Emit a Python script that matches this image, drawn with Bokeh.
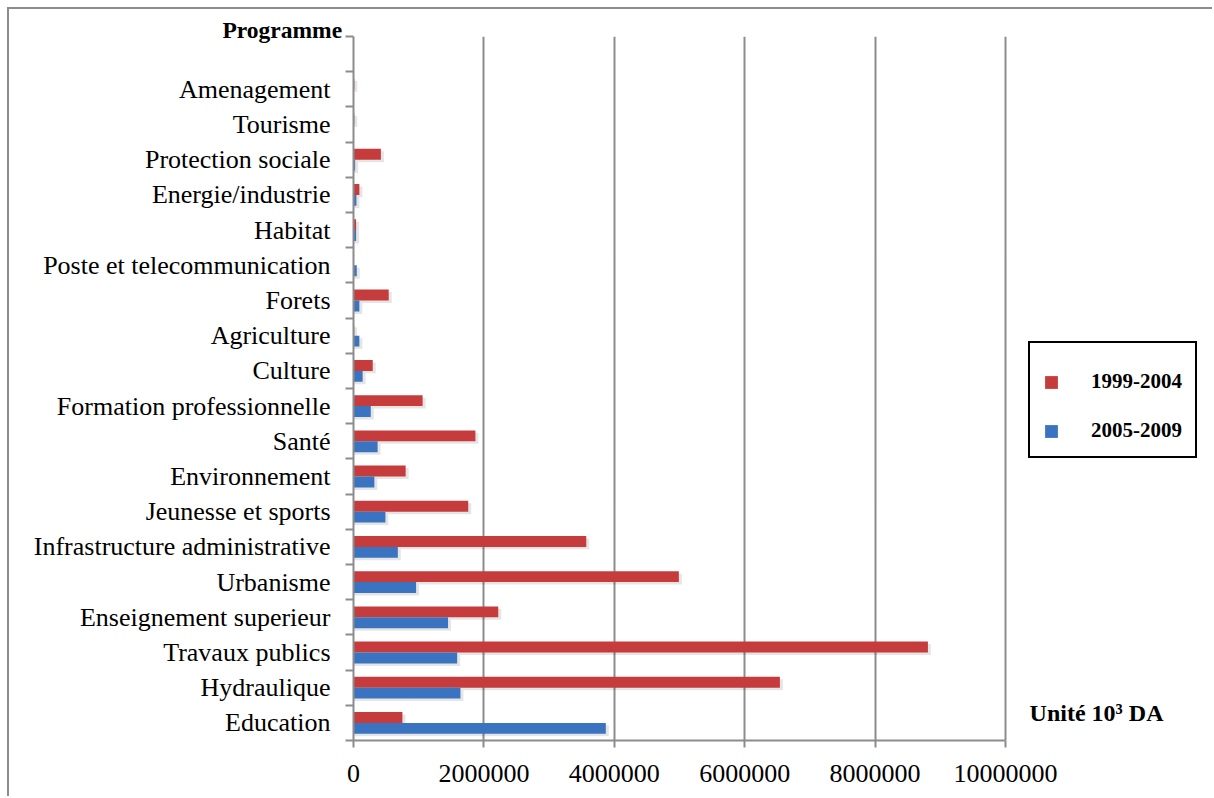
from bokeh.plotting import figure
from bokeh.models import (ColumnDataSource, FixedTicker, Legend, LegendItem, Label,
                          Title, BasicTickFormatter)
from bokeh.embed import file_html
from bokeh.resources import INLINE

# ---- data (unit: 10^3 DA), bottom to top ----
categories = ["Education", "Hydraulique", "Travaux publics", "Enseignement superieur",
              "Urbanisme", "Infrastructure administrative", "Jeunesse et sports",
              "Environnement", "Santé", "Formation professionnelle", "Culture",
              "Agriculture", "Forets", "Poste et telecommunication", "Habitat",
              "Energie/industrie", "Protection sociale", "Tourisme", "Amenagement"]
values_1999_2004 = [750000, 6540000, 8810000, 2220000, 4990000, 3570000, 1760000,
                    800000, 1870000, 1060000, 295000, 10000, 540000, 0, 40000,
                    90000, 420000, 12000, 12000]
values_2005_2009 = [3870000, 1640000, 1590000, 1450000, 960000, 680000, 490000,
                    320000, 370000, 265000, 140000, 90000, 90000, 50000, 40000,
                    45000, 25000, 0, 0]
series_labels = ["1999-2004", "2005-2009"]
x_ticks = [0, 2000000, 4000000, 6000000, 8000000, 10000000]
axis_title = "Programme"
unit_text = "Unité 10³ DA"

RED = "#C63B3B"
BLUE = "#3A74C0"
GRAY = "#8C8C8C"
SERIF = "Liberation Serif"

# layout (page pixels)
W, H = 1214, 798
OFF = 9                      # margin + border of the outer frame line
FRAME_L, FRAME_T, FRAME_B = 353, 36, 740
AXIS_R = 1005                # pixel where 10 000 000 lies
x_max = x_ticks[-1]
x_end = x_max * (W - FRAME_L) / (AXIS_R - FRAME_L)
px = x_max / (AXIS_R - FRAME_L)   # data units per pixel on x

n = len(categories)
centers = [i + 0.5 for i in range(n)]
BAR_H = 0.31
src = ColumnDataSource(dict(
    cat=categories,
    y_red=[c + 0.155 for c in centers],
    y_blue=[c - 0.155 for c in centers],
    red=values_1999_2004,
    blue=values_2005_2009,
))
shadow = ColumnDataSource(dict(
    y=[c + 0.155 - 0.07 for c in centers] + [c - 0.155 - 0.07 for c in centers],
    right=[v + 3 * px if v > 0 else 0 for v in values_1999_2004] +
          [v + 3 * px if v > 0 else 0 for v in values_2005_2009],
))

p = figure(width=W - OFF, height=H - OFF, output_backend="svg", toolbar_location=None,
           x_range=(0, x_end), y_range=(0, n + 1),
           min_border_left=FRAME_L - OFF, min_border_right=0,
           min_border_top=FRAME_T - OFF, min_border_bottom=H - FRAME_B)
p.styles = {"margin-left": "7px", "margin-top": "7px",
            "border-left": "2px solid #8C8C8C", "border-top": "2px solid #8C8C8C"}
p.outline_line_color = None
p.background_fill_color = "white"
p.border_fill_color = "white"

p.hbar(y="y", right="right", left=0, height=BAR_H, source=shadow,
       fill_color="#000000", fill_alpha=0.10, line_color=None)
r_red = p.hbar(y="y_red", right="red", left=0, height=BAR_H, source=src,
               fill_color=RED, line_color=None)
r_blue = p.hbar(y="y_blue", right="blue", left=0, height=BAR_H, source=src,
                fill_color=BLUE, line_color=None)

# x axis
xa = p.xaxis[0]
xa.ticker = FixedTicker(ticks=x_ticks)
xa.bounds = (0, x_max)
xa.formatter = BasicTickFormatter(use_scientific=False)
xa.axis_line_color = GRAY
xa.axis_line_width = 2
xa.major_tick_line_color = GRAY
xa.major_tick_line_width = 2
xa.major_tick_in = 0
xa.major_tick_out = 7
xa.minor_tick_line_color = None
xa.major_label_text_font = SERIF
xa.major_label_text_font_size = "26px"
xa.major_label_text_color = "black"
xa.major_label_standoff = 17

# y axis
ya = p.yaxis[0]
ya.ticker = FixedTicker(ticks=centers, minor_ticks=list(range(n + 2)))
ya.major_label_overrides = {c: name for c, name in zip(centers, categories)}
ya.axis_line_color = GRAY
ya.axis_line_width = 2
ya.major_tick_line_color = None
ya.major_tick_in = 0
ya.major_tick_out = 0
ya.minor_tick_line_color = GRAY
ya.minor_tick_line_width = 2
ya.minor_tick_in = 0
ya.minor_tick_out = 8
ya.major_label_text_font = SERIF
ya.major_label_text_font_size = "26px"
ya.major_label_text_color = "black"
ya.major_label_standoff = 15

# grid
p.xgrid.ticker = FixedTicker(ticks=x_ticks[1:])
p.xgrid.grid_line_color = GRAY
p.xgrid.grid_line_width = 2
p.ygrid.grid_line_color = None

# axis title at the top of the category axis
p.add_layout(Title(text=axis_title, align="left", offset=-131, standoff=-12,
                   vertical_align="bottom",
                   text_font=SERIF, text_font_style="bold", text_font_size="23.5px",
                   text_color="black"), "above")

# unit note
p.add_layout(Label(x=10370000, y=0.77, text=unit_text, text_font=SERIF,
                   text_font_style="bold", text_font_size="24px", text_color="black",
                   text_align="left", text_baseline="middle"))

# legend
legend = Legend(items=[LegendItem(label=series_labels[0], renderers=[r_red]),
                       LegendItem(label=series_labels[1], renderers=[r_blue])],
                location=(675, 282), orientation="vertical",
                title=" ", title_text_font_size="10px", title_standoff=2,
                glyph_width=16, glyph_height=16, label_standoff=32,
                label_text_font=SERIF, label_text_font_style="bold",
                label_text_font_size="21px", label_text_color="black",
                label_height=24, spacing=24, padding=13, margin=0,
                border_line_color="black", border_line_alpha=1.0, border_line_width=2,
                background_fill_color="white", background_fill_alpha=1.0)
p.add_layout(legend)

open("out.html", "w").write(file_html(p, INLINE))
